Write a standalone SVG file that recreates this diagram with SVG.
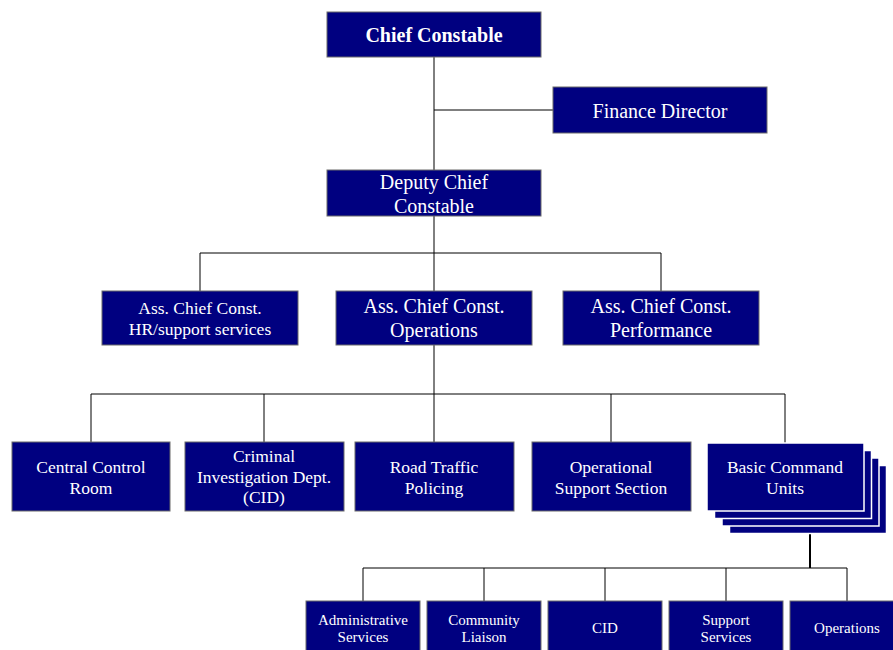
<svg xmlns="http://www.w3.org/2000/svg" width="893" height="650" viewBox="0 0 893 650">
  <style>
    .box { fill: #000080; stroke: #6a6a6a; stroke-width: 1; }
    .stack { fill: #000080; stroke: #ffffff; stroke-width: 1.5; }
    .t { fill: #ffffff; font-family: "Liberation Serif", "Times New Roman", serif; text-anchor: middle; }
    .t20 { font-size: 20px; }
    .t17 { font-size: 17.5px; }
    .t15 { font-size: 15px; }
    .b { font-weight: bold; }
    .ln { stroke: #000000; stroke-width: 1; fill: none; }
    .ln2 { stroke: #000000; stroke-width: 2; fill: none; }
  </style>

  <g id="connectors">
    <!-- top trunk and finance branch -->
    <path class="ln" d="M434 57 V170 M434 110 H553"/>
    <!-- deputy to assistant chiefs -->
    <path class="ln" d="M434 216 V291 M200 253 H661 M200 253 V291 M661 253 V291"/>
    <!-- operations to departments -->
    <path class="ln" d="M434 345 V442 M91 394 H785 M91 394 V442 M264 394 V442 M611 394 V442 M785 394 V443"/>
    <!-- basic command units to sections -->
    <path class="ln2" d="M810 533 V568"/>
    <path class="ln" d="M363 568 H847 M363 568 V601 M484 568 V601 M605 568 V601 M726 568 V601 M847 568 V601"/>
  </g>

  <g id="chief-constable">
    <rect class="box" x="327" y="12" width="214" height="45"/>
    <text class="t t20 b" x="434" y="42">Chief Constable</text>
  </g>

  <g id="finance-director">
    <rect class="box" x="553" y="87" width="214" height="46"/>
    <text class="t t20" x="660" y="118">Finance Director</text>
  </g>

  <g id="deputy-chief-constable">
    <rect class="box" x="327" y="170" width="214" height="46"/>
    <text class="t t20" x="434" y="189">Deputy Chief</text>
    <text class="t t20" x="434" y="213">Constable</text>
  </g>

  <g id="acc-hr">
    <rect class="box" x="102" y="291" width="196" height="54"/>
    <text class="t t17" x="200" y="314">Ass. Chief Const.</text>
    <text class="t t17" x="200" y="335">HR/support services</text>
  </g>

  <g id="acc-operations">
    <rect class="box" x="336" y="291" width="196" height="54"/>
    <text class="t t20" x="434" y="313">Ass. Chief Const.</text>
    <text class="t t20" x="434" y="337">Operations</text>
  </g>

  <g id="acc-performance">
    <rect class="box" x="563" y="291" width="196" height="54"/>
    <text class="t t20" x="661" y="313">Ass. Chief Const.</text>
    <text class="t t20" x="661" y="337">Performance</text>
  </g>

  <g id="central-control-room">
    <rect class="box" x="12" y="442" width="158" height="69"/>
    <text class="t t17" x="91" y="473">Central Control</text>
    <text class="t t17" x="91" y="494">Room</text>
  </g>

  <g id="cid-dept">
    <rect class="box" x="185" y="442" width="159" height="69"/>
    <text class="t t17" x="264" y="462">Criminal</text>
    <text class="t t17" x="264" y="483">Investigation Dept.</text>
    <text class="t t17" x="264" y="503">(CID)</text>
  </g>

  <g id="road-traffic">
    <rect class="box" x="355" y="442" width="159" height="69"/>
    <text class="t t17" x="434" y="473">Road Traffic</text>
    <text class="t t17" x="434" y="494">Policing</text>
  </g>

  <g id="operational-support">
    <rect class="box" x="532" y="442" width="159" height="69"/>
    <text class="t t17" x="611" y="473">Operational</text>
    <text class="t t17" x="611" y="494">Support Section</text>
  </g>

  <g id="basic-command-units">
    <rect class="stack" x="729.5" y="465.5" width="157" height="68"/>
    <rect class="stack" x="722" y="458" width="157" height="68"/>
    <rect class="stack" x="714.5" y="450.5" width="157" height="68"/>
    <rect class="stack" x="707" y="443" width="157" height="68"/>
    <text class="t t17" x="785" y="473">Basic Command</text>
    <text class="t t17" x="785" y="494">Units</text>
  </g>

  <g id="administrative-services">
    <rect class="box" x="306" y="601" width="114" height="55"/>
    <text class="t t15" x="363" y="625">Administrative</text>
    <text class="t t15" x="363" y="642">Services</text>
  </g>

  <g id="community-liaison">
    <rect class="box" x="427" y="601" width="114" height="55"/>
    <text class="t t15" x="484" y="625">Community</text>
    <text class="t t15" x="484" y="642">Liaison</text>
  </g>

  <g id="cid-section">
    <rect class="box" x="548" y="601" width="114" height="55"/>
    <text class="t t15" x="605" y="633">CID</text>
  </g>

  <g id="support-services">
    <rect class="box" x="669" y="601" width="114" height="55"/>
    <text class="t t15" x="726" y="625">Support</text>
    <text class="t t15" x="726" y="642">Services</text>
  </g>

  <g id="operations-section">
    <rect class="box" x="790" y="601" width="114" height="55"/>
    <text class="t t15" x="847" y="633">Operations</text>
  </g>
</svg>
